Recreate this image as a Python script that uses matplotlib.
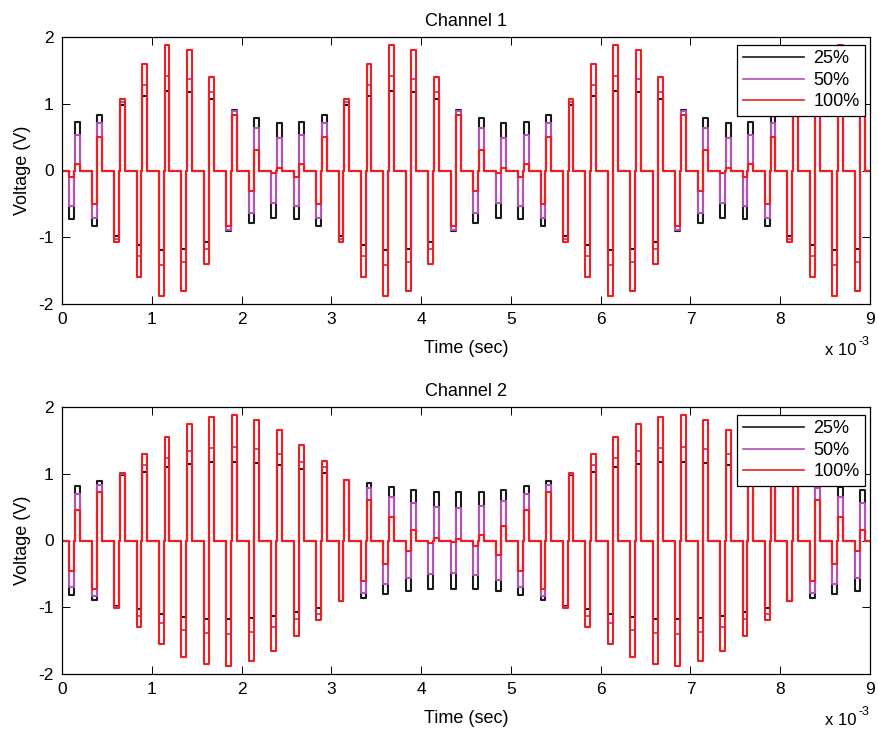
import numpy as np
import matplotlib
matplotlib.use("Agg")
from matplotlib import pyplot as plt

plt.rcParams['font.family'] = ['Liberation Sans', 'DejaVu Sans']
plt.rcParams['axes.unicode_minus'] = False

# pulse timing (ms)
first_pulse_ms = 0.08
period_ms = 0.25
phase_ms = 0.055
gap_ms = 0.007
n_pulses = 36
t_end_ms = 9.0

labels = ["25%", "50%", "100%"]
colors = ["#1a1a1a", "#b552b5", "#f01e23"]

# pulse amplitudes (V) per biphasic pulse
ch1_25 = [0.73, 0.83, 0.98, 1.12, 1.19, 1.17, 1.065, 0.91, 0.78, 0.71,
          0.73, 0.83, 0.98, 1.12, 1.19, 1.17, 1.065, 0.91, 0.78, 0.71,
          0.73, 0.83, 0.98, 1.12, 1.19, 1.17, 1.065, 0.91, 0.78, 0.71,
          0.73, 0.83, 0.98, 1.12, 1.19, 1.17]
ch1_50 = [0.525, 0.71, 1.02, 1.275, 1.41, 1.37, 1.18, 0.89, 0.63, 0.49,
          0.525, 0.71, 1.02, 1.275, 1.41, 1.37, 1.18, 0.89, 0.63, 0.49,
          0.525, 0.71, 1.02, 1.275, 1.41, 1.37, 1.18, 0.89, 0.63, 0.49,
          0.525, 0.71, 1.02, 1.275, 1.41, 1.37]
ch1_100 = [0.10, 0.505, 1.075, 1.60, 1.88, 1.80, 1.40, 0.83, 0.30, 0.03,
           0.10, 0.505, 1.075, 1.60, 1.88, 1.80, 1.40, 0.83, 0.30, 0.03,
           0.10, 0.505, 1.075, 1.60, 1.88, 1.80, 1.40, 0.83, 0.30, 0.03,
           0.10, 0.505, 1.075, 1.60, 1.88, 1.80]

ch2_25 = [0.82, 0.885, 0.975, 1.03, 1.10, 1.15, 1.175, 1.18, 1.16, 1.13,
          1.07, 1.005, 0.91, 0.855, 0.80, 0.75, 0.72, 0.72, 0.725, 0.76,
          0.82, 0.885, 0.975, 1.03, 1.10, 1.15, 1.175, 1.18, 1.16, 1.13,
          1.07, 1.005, 0.91, 0.855, 0.80, 0.75]
ch2_50 = [0.695, 0.83, 1.00, 1.13, 1.24, 1.335, 1.39, 1.40, 1.37, 1.295,
          1.18, 1.10, 0.905, 0.78, 0.65, 0.56, 0.50, 0.485, 0.52, 0.595,
          0.695, 0.83, 1.00, 1.13, 1.24, 1.335, 1.39, 1.40, 1.37, 1.295,
          1.18, 1.10, 0.905, 0.78, 0.65, 0.56]
ch2_100 = [0.455, 0.72, 1.01, 1.29, 1.545, 1.745, 1.85, 1.885, 1.81, 1.655,
           1.43, 1.19, 0.91, 0.61, 0.355, 0.16, 0.04, 0.015, 0.075, 0.215,
           0.455, 0.72, 1.01, 1.29, 1.545, 1.745, 1.85, 1.885, 1.81, 1.655,
           1.43, 1.19, 0.91, 0.61, 0.355, 0.16]


def waveform(amps):
    starts = first_pulse_ms + period_ms * np.arange(n_pulses)
    t = [0.0]
    v = [0.0]
    for s, a in zip(starts, amps):
        e1 = s + phase_ms
        s2 = e1 + gap_ms
        e2 = s2 + phase_ms
        t += [s, s, e1, e1, s2, s2, e2, e2]
        v += [0, -a, -a, 0, 0, a, a, 0]
    t.append(t_end_ms)
    v.append(0)
    return np.array(t), np.array(v)


W, H = 879, 731
fig = plt.figure(figsize=(W / 100, H / 100), dpi=100)


def panel(top_px, title, series):
    ax = fig.add_axes([62 / W, 1 - (top_px + 267) / H, 808 / W, 267 / H])
    for amps, lab, c in zip(series, labels, colors):
        t, v = waveform(amps)
        ax.plot(t, v, color=c, lw=1.5, label=lab)
    ax.set_xlim(0, 9)
    ax.set_ylim(-2, 2)
    ax.set_xticks(range(10))
    ax.set_yticks([-2, -1, 0, 1, 2])
    ax.tick_params(direction='in', length=6, width=0.7, top=True, right=True,
                   labelsize=12.5, pad=6)
    for sp in ax.spines.values():
        sp.set_linewidth(0.9)
    ax.set_title(title, fontsize=13, pad=8)
    ax.set_xlabel("Time (sec)", fontsize=13, labelpad=9)
    ax.set_ylabel("Voltage (V)", fontsize=13, labelpad=5)
    leg = ax.legend(loc='upper right', bbox_to_anchor=(865 / W, 1 - (top_px + 8) / H),
                    bbox_transform=fig.transFigure, borderaxespad=0,
                    fontsize=13, handlelength=3.4, labelspacing=0.25,
                    fancybox=False, framealpha=1, edgecolor='black',
                    borderpad=0.3, handletextpad=0.5)
    leg.get_frame().set_linewidth(0.9)
    for line in leg.get_lines():
        line.set_linewidth(1.2)
    base = top_px + 267 + 51
    fig.text(825 / W, 1 - base / H, "x 10", fontsize=12, va='baseline')
    fig.text(859 / W, 1 - (base - 10) / H, "-3", fontsize=9, va='baseline')
    return ax


panel(37, "Channel 1", [ch1_25, ch1_50, ch1_100])
panel(407, "Channel 2", [ch2_25, ch2_50, ch2_100])

fig.savefig("out.png", dpi=100)
